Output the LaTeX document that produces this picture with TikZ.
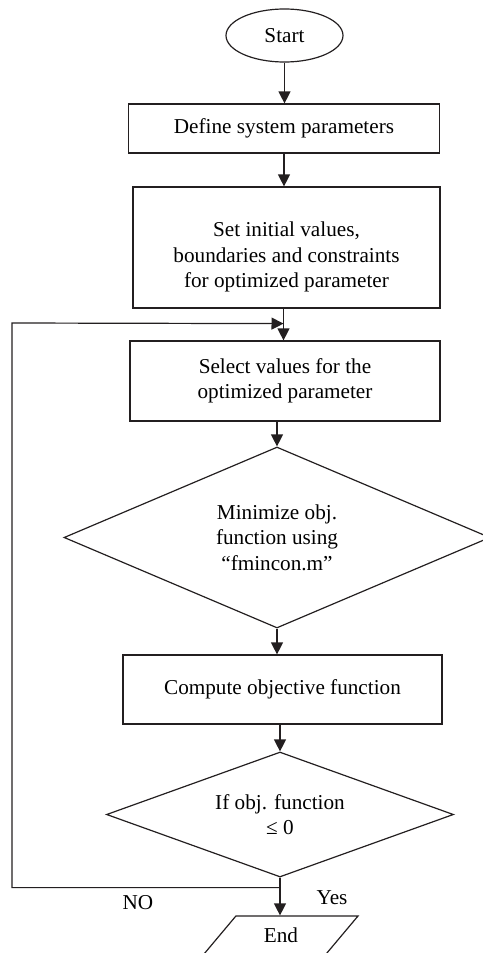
\documentclass[tikz,border=0pt]{standalone}
\usepackage{fontspec}
\setmainfont{Liberation Serif}
\usepackage{tikz}
\usetikzlibrary{shapes.geometric, arrows.meta, positioning}
\definecolor{myline}{RGB}{35,31,32}
\newcommand{\flowfont}{\fontsize{10.6}{12.75}\selectfont}
\tikzset{
  block/.style={rectangle, draw=myline, line width=0.6pt,
    align=center, inner sep=0pt, font=\flowfont},
  decision/.style={diamond, draw=myline, line width=0.6pt,
    align=center, inner sep=0pt, font=\flowfont},
  terminal/.style={ellipse, draw=myline, line width=0.6pt,
    inner sep=0pt, font=\flowfont},
  io/.style={trapezium, trapezium left angle=51, trapezium right angle=129,
    trapezium stretches=true, draw=myline, line width=0.6pt,
    inner sep=0pt, font=\flowfont},
  arrow/.style={-{Triangle[length=6pt, width=6pt]}, line width=0.6pt, color=myline},
  line/.style={line width=0.6pt, color=myline}
}

\begin{document}
\begin{tikzpicture}[x=0.5pt, y=-0.5pt]
  \useasboundingbox (0,0) rectangle (482,953);

  % Start and set-up
  \node[terminal, minimum width=58.5pt, minimum height=26.5pt] (start) at (284.5,35.5) {Start};
  \node[block, minimum width=155.75pt, minimum height=24.5pt] (define) at (284,128.5) {Define system parameters};
  \node[block, minimum width=153.5pt, minimum height=60.5pt] (init) at (286.5,247.5)
    {\rule{0pt}{17pt}Set initial values,\\ boundaries and constraints\\ for optimized parameter};

  % Optimisation loop
  \node[block, minimum width=155pt, minimum height=40pt] (select) at (285,381)
    {Select values for the\\ optimized parameter};
  \node[decision, aspect=2.35, minimum width=213pt, minimum height=90.5pt] (minim) at (277,537.5)
    {Minimize obj.\\ function using\\ ``fmincon.m''};
  \node[block, minimum width=159.5pt, minimum height=34.5pt] (compute) at (282.5,689.5)
    {Compute objective function};
  \node[decision, aspect=2.78, minimum width=173.5pt, minimum height=62.5pt] (check) at (280,814.5)
    {If obj. function\\ ≤ 0};

  % End
  \node[io, minimum width=77pt, minimum height=19pt] (finish) at (281,935) {End};

  % Labels
  \node[font=\flowfont] (no) at (138,903) {NO};
  \node[font=\flowfont] (yes) at (332,898) {Yes};

  % Connections
  \draw[arrow] (start.south) -- (start.south |- define.north);
  \draw[arrow] (define.south) -- (define.south |- init.north);
  \draw[arrow] (init.south) ++(-3,0) coordinate (drop) -- (drop |- select.north);
  \draw[arrow] (select.south -| minim.north) -- (minim.north);
  \draw[arrow] (minim.south) -- (minim.south |- compute.north);
  \draw[arrow] (compute.south -| check.north) -- (check.north);
  \draw[arrow] (check.south) -- (check.south |- finish.north);

  % Feedback
  \path (drop) ++(0,15) coordinate (merge);
  \coordinate (back) at (12,323);
  \draw[arrow] (check.south) -- ++(0,10) -| (back) -- (merge);
\end{tikzpicture}
\end{document}
